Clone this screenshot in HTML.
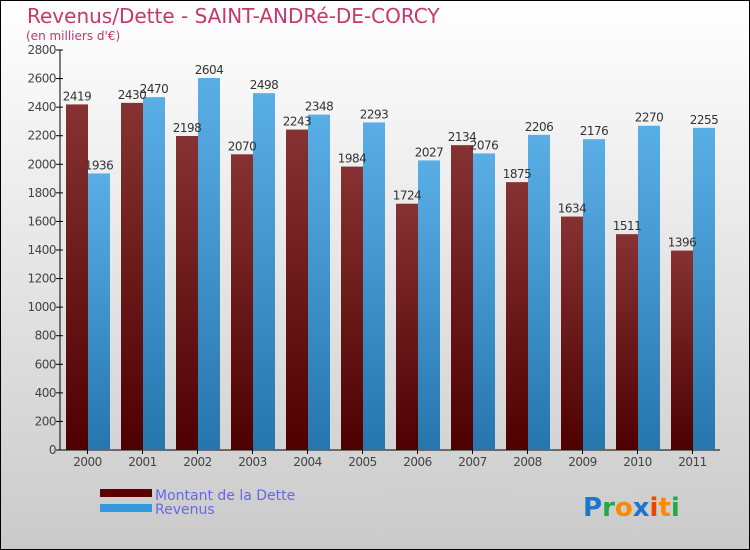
<!DOCTYPE html>
<html><head><meta charset="utf-8"><style>
body{margin:0}
svg{display:block;font-family:"DejaVu Sans","Liberation Sans",sans-serif}
</style></head><body>
<svg id="chart" width="750" height="550">
<defs>
<linearGradient id="bg" x1="0" y1="0" x2="0" y2="1"><stop offset="0" stop-color="#ffffff"/><stop offset="1" stop-color="#cacaca"/></linearGradient>
<linearGradient id="gd" x1="0" y1="0" x2="0" y2="1"><stop offset="0" stop-color="#863232"/><stop offset="1" stop-color="#4e0000"/></linearGradient>
<linearGradient id="gr" x1="0" y1="0" x2="0" y2="1"><stop offset="0" stop-color="#5aaee6"/><stop offset="1" stop-color="#2676ae"/></linearGradient>
</defs>
<rect x="0.5" y="0.5" width="749" height="549" fill="url(#bg)" stroke="#000"/>
<text x="27" y="23" font-size="20" fill="#c8366a">Revenus/Dette - SAINT-ANDRé-DE-CORCY</text>
<text x="26" y="40" font-size="12" fill="#c8366a">(en milliers d'€)</text>
<g id="axes"></g>
<g id="bars"></g>
<rect x="100" y="489" width="52" height="8" fill="#5a0000"/>
<rect x="100" y="504" width="52" height="8" fill="#3399dd"/>
<text x="155" y="500" font-size="14" fill="#6666ee">Montant de la Dette</text>
<text x="155" y="514" font-size="14" fill="#6666ee">Revenus</text>
<text x="583" y="516" font-size="26" font-weight="bold"><tspan fill="#1a77cc">P</tspan><tspan fill="#22aa44">r</tspan><tspan fill="#ff8800">o</tspan><tspan fill="#1a77cc">x</tspan><tspan fill="#ee4400">i</tspan><tspan fill="#ff8800">t</tspan><tspan fill="#22aa44">i</tspan></text>
</svg>
<script>
const years=["2000","2001","2002","2003","2004","2005","2006","2007","2008","2009","2010","2011"];
const dette=[2419,2430,2198,2070,2243,1984,1724,2134,1875,1634,1511,1396];
const revenus=[1936,2470,2604,2498,2348,2293,2027,2076,2206,2176,2270,2255];
const yTicks=[0,200,400,600,800,1000,1200,1400,1600,1800,2000,2200,2400,2600,2800];
const NS="http://www.w3.org/2000/svg";
const x0=60,step=55,y0=450,yTop=50,yMax=2800;
const y=v=>y0-(v/yMax)*(y0-yTop);
function mk(tag,attrs,parent,txt){const e=document.createElementNS(NS,tag);for(const k in attrs)e.setAttribute(k,attrs[k]);if(txt!==undefined)e.textContent=txt;parent.appendChild(e);return e;}
const ax=document.getElementById('axes'),bg=document.getElementById('bars');
let e=mk('line',{x1:x0,y1:yTop,x2:x0,y2:y0,stroke:'#000'},ax);


e=mk('line',{x1:x0,y1:y0,x2:x0+step*years.length,y2:y0,stroke:'#000'},ax);


yTicks.forEach(t=>{
 mk('line',{x1:x0-4,y1:y(t),x2:x0+3,y2:y(t),stroke:'#000'},ax);
 const l=mk('text',{x:x0-4,y:y(t)+4,'font-size':12,fill:'#444','text-anchor':'end','letter-spacing':'-0.5'},ax,t);
 
 
});
years.forEach((yr,i)=>{
 const gx=x0+step*i, c=gx+27.5;
 mk('line',{x1:c,y1:y0,x2:c,y2:y0+4,stroke:'#000'},ax);
 const l=mk('text',{x:c,y:y0+16,'font-size':12,fill:'#444','text-anchor':'middle','letter-spacing':'-0.5'},ax,yr);
 
 
 const b1=mk('rect',{x:gx+6,y:y(dette[i]),width:22,height:y0-y(dette[i]),fill:'url(#gd)'},bg);
 
 
 const b2=mk('rect',{x:gx+28,y:y(revenus[i]),width:22,height:y0-y(revenus[i]),fill:'url(#gr)'},bg);
 
 
 const v1=mk('text',{x:gx+17,y:y(dette[i])-4,'font-size':12,fill:'#333','text-anchor':'middle','letter-spacing':'-0.5'},bg,dette[i]);
 
 
 const v2=mk('text',{x:gx+39,y:y(revenus[i])-4,'font-size':12,fill:'#333','text-anchor':'middle','letter-spacing':'-0.5'},bg,revenus[i]);
 
 
});
</script>
</body></html>
